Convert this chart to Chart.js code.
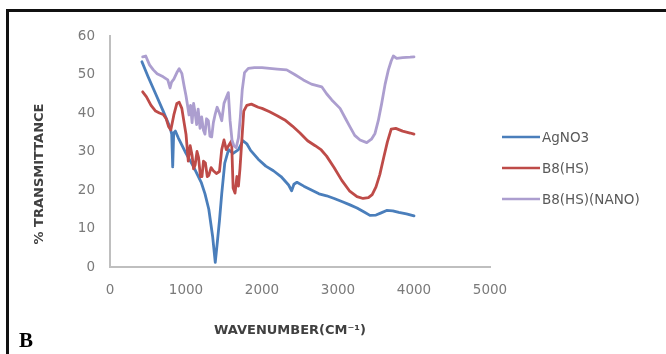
<!DOCTYPE html>
<html><head><meta charset="utf-8">
<script src="https://cdn.jsdelivr.net/npm/chart.js@4.4.1/dist/chart.umd.min.js"></script>
<style>
html,body{margin:0;padding:0;background:#fff;}
#wrap{position:relative;width:666px;height:354px;overflow:hidden;}
#c{position:absolute;left:0;top:0;}
</style>
</head><body><div id="wrap"><canvas id="c" width="666" height="354"></canvas></div>
<script>
// ---- data ----
const seriesNames = ['AgNO3', 'B8(HS)', 'B8(HS)(NANO)'];
const agX = [420, 500, 600, 700, 790, 812, 825, 838, 860, 900, 1000, 1100, 1200, 1250, 1300, 1350, 1385, 1410, 1440, 1470, 1510, 1560, 1620, 1690, 1750, 1800, 1850, 1950, 2050, 2150, 2250, 2350, 2390, 2420, 2460, 2550, 2650, 2750, 2850, 2950, 3050, 3150, 3250, 3350, 3420, 3500, 3560, 3640, 3720, 3800, 3900, 4000];
const agY = [53.3, 49.5, 45, 40.5, 36.2, 34.5, 26, 34.8, 35.3, 33.5, 29.5, 26, 22, 19, 15, 8, 1.2, 6, 12, 19, 27, 30.5, 29.5, 30.5, 32.8, 32, 30.3, 28, 26.2, 25, 23.5, 21.3, 19.8, 21.5, 22, 21, 20, 19, 18.5, 17.8, 17, 16.2, 15.3, 14.2, 13.4, 13.5, 14, 14.7, 14.6, 14.2, 13.8, 13.3];
const b8X = [430, 480, 540, 600, 650, 700, 740, 770, 800, 815, 840, 880, 910, 945, 975, 1000, 1030, 1055, 1080, 1100, 1120, 1145, 1165, 1190, 1210, 1230, 1255, 1280, 1300, 1330, 1360, 1400, 1440, 1470, 1500, 1530, 1560, 1600, 1620, 1645, 1670, 1690, 1710, 1735, 1760, 1800, 1860, 1950, 2000, 2100, 2200, 2300, 2400, 2500, 2600, 2700, 2780, 2850, 2950, 3050, 3150, 3250, 3330, 3400, 3450, 3500, 3550, 3600, 3650, 3700, 3760, 3850, 3950, 4000];
const b8Y = [45.5, 44.2, 42, 40.5, 40, 39.6, 38.5, 36.5, 35.6, 37, 39.5, 42.5, 42.8, 41.2, 37.5, 34.5, 27.5, 31.5, 29, 25.5, 26.5, 30, 28.5, 23.5, 23.5, 27.5, 27, 23.5, 23.8, 25.8, 25, 24.3, 24.8, 30.5, 33, 30.5, 31.5, 32.8, 20.5, 19.2, 23.5, 21, 25.5, 33, 40.5, 42, 42.3, 41.5, 41.2, 40.3, 39.3, 38.2, 36.6, 34.8, 32.8, 31.5, 30.4, 28.8, 25.8, 22.5, 19.8, 18.3, 17.8, 18, 18.8, 20.8, 24, 28.3, 32.5, 35.8, 36, 35.3, 34.8, 34.5];
const nanoX = [430, 470, 520, 570, 620, 700, 760, 790, 810, 840, 880, 910, 945, 975, 1000, 1020, 1040, 1060, 1080, 1100, 1120, 1140, 1160, 1185, 1206, 1230, 1250, 1270, 1294, 1315, 1338, 1360, 1382, 1410, 1440, 1470, 1500, 1530, 1557, 1580, 1605, 1630, 1660, 1690, 1715, 1740, 1770, 1820, 1900, 2000, 2100, 2200, 2325, 2430, 2544, 2650, 2786, 2850, 2918, 3027, 3100, 3158, 3220, 3290, 3378, 3440, 3487, 3530, 3575, 3620, 3663, 3700, 3728, 3772, 3850, 3950, 4000];
const nanoY = [54.6, 54.8, 52.5, 51.2, 50.2, 49.4, 48.6, 46.5, 48, 48.8, 50.5, 51.5, 50.3, 47, 44.5, 42, 39.5, 42, 37.5, 42.5, 40, 37, 41, 36, 39, 35.5, 34.5, 38.5, 38, 34, 33.8, 37.5, 39.5, 41.5, 40, 38, 42.5, 44, 45.3, 38, 33, 31.5, 31, 33.5, 39, 46, 50.5, 51.6, 51.8, 51.8, 51.6, 51.4, 51.2, 50, 48.6, 47.5, 46.8, 45, 43.4, 41.2, 38.5, 36.4, 34.2, 33, 32.3, 33.2, 34.7, 38, 42.5, 47.5, 51.2, 53.5, 54.8, 54.2, 54.4, 54.5, 54.6];
const xTickValues = [0, 1000, 2000, 3000, 4000, 5000];
const yTickValues = [0, 10, 20, 30, 40, 50, 60];
const xTitle = 'WAVENUMBER(CM\u207B\u00B9)';
const yTitle = '% TRANSMITTANCE';
const panelLabel = 'B';

const colors = ['#4A7EBB', '#BE4B48', '#AC9ECF'];
const zip = (xs, ys) => xs.map((x, i) => ({x: x, y: ys[i]}));
const FONT = "'DejaVu Sans', sans-serif";

const decor = {
  id: 'decor',
  beforeDraw(chart) {
    const ctx = chart.ctx;
    ctx.save();
    ctx.fillStyle = '#fff';
    ctx.fillRect(0, 0, 666, 354);
    ctx.restore();
  },
  afterDraw(chart) {
    const ctx = chart.ctx;
    ctx.save();
    // figure box: top and left edges
    ctx.fillStyle = '#111111';
    ctx.fillRect(7, 9, 659, 3);
    ctx.fillRect(6, 9, 3, 345);
    // axis titles
    ctx.fillStyle = '#404040';
    ctx.font = "bold 13px " + FONT;
    ctx.textAlign = 'center';
    ctx.textBaseline = 'middle';
    ctx.fillText(xTitle, 290, 331);
    ctx.save();
    ctx.translate(40, 174);
    ctx.rotate(-Math.PI / 2);
    ctx.fillText(yTitle, 0, 0);
    ctx.restore();
    // panel label
    ctx.fillStyle = '#000';
    ctx.font = "bold 21px 'Liberation Serif', serif";
    ctx.textAlign = 'left';
    ctx.textBaseline = 'alphabetic';
    ctx.fillText(panelLabel, 19, 347);
    // legend
    const ys = [137, 168, 199];
    ctx.font = "13.5px " + FONT;
    ctx.textBaseline = 'middle';
    chart.data.datasets.forEach((ds, i) => {
      ctx.strokeStyle = ds.borderColor;
      ctx.lineWidth = 2.5;
      ctx.beginPath();
      ctx.moveTo(502, ys[i]); ctx.lineTo(540, ys[i]);
      ctx.stroke();
      ctx.fillStyle = '#595959';
      ctx.fillText(ds.label, 542, ys[i] + 1);
    });
    ctx.restore();
  }
};

new Chart(document.getElementById('c'), {
  type: 'line',
  data: {
    datasets: [
      {label: seriesNames[0], data: zip(agX, agY), borderColor: colors[0], order: 3},
      {label: seriesNames[1], data: zip(b8X, b8Y), borderColor: colors[1], order: 2},
      {label: seriesNames[2], data: zip(nanoX, nanoY), borderColor: colors[2], order: 1}
    ]
  },
  options: {
    responsive: false,
    animation: false,
    devicePixelRatio: 1,
    layout: {padding: {left: 0, top: 36, right: 176, bottom: 0}},
    elements: {
      line: {borderWidth: 2.8, tension: 0, borderJoinStyle: 'round', borderCapStyle: 'round'},
      point: {radius: 0}
    },
    plugins: {legend: {display: false}, tooltip: {enabled: false}},
    scales: {
      x: {
        type: 'linear', min: 0, max: 5000,
        afterBuildTicks: s => { s.ticks = xTickValues.map(v => ({value: v})); },
        afterFit: s => { s.height = 87; },
        grid: {display: false, drawTicks: false},
        border: {display: true, color: '#BFBFBF', width: 2},
        ticks: {padding: 15, color: '#7a7a7a', font: {family: FONT, size: 13.5}, maxRotation: 0, callback: v => String(v)}
      },
      y: {
        type: 'linear', min: 0, max: 60,
        afterBuildTicks: s => { s.ticks = yTickValues.map(v => ({value: v})); },
        afterFit: s => { s.width = 110; },
        grid: {display: false, drawTicks: false},
        border: {display: true, color: '#BFBFBF', width: 2},
        ticks: {padding: 15, color: '#7a7a7a', font: {family: FONT, size: 13.5}, callback: v => String(v)}
      }
    }
  },
  plugins: [decor]
});
</script>
</body></html>
